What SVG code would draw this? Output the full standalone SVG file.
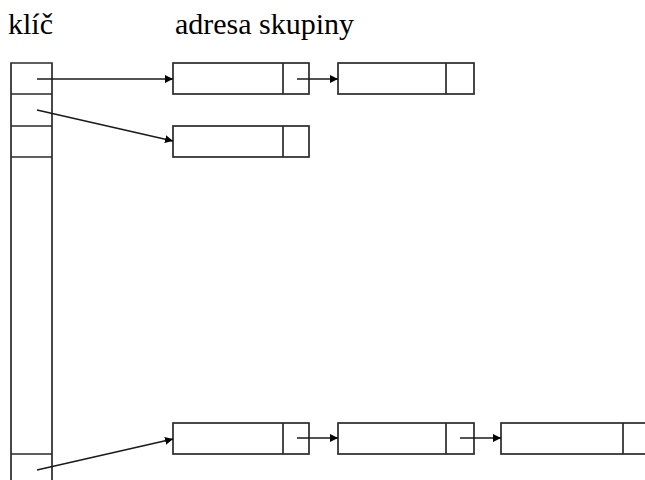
<svg xmlns="http://www.w3.org/2000/svg" width="645" height="480" viewBox="0 0 645 480">
  <style>
    .box { fill: none; stroke: #2a2a2a; stroke-width: 1.7; }
    .link { fill: none; stroke: #1a1a1a; stroke-width: 1.6; }
    .lbl { font-family: "Liberation Serif", "Times New Roman", Times, Tinos, "Nimbus Roman", "Nimbus Roman No9 L", "DejaVu Serif", "Noto Serif", FreeSerif, serif; font-size: 30px; fill: #000; }
  </style>
  <defs>
    <marker id="head" markerWidth="10" markerHeight="10" refX="8" refY="4.5" orient="auto" markerUnits="userSpaceOnUse">
      <path d="M0,0.5 L8,4.5 L0,8.5 Z" fill="#000"/>
    </marker>
  </defs>
  <rect width="645" height="480" fill="#fff"/>

  <text class="lbl" x="8" y="34">klíč</text>
  <text class="lbl" x="175" y="34">adresa skupiny</text>

  <!-- key table (column of slots) -->
  <g id="keys">
    <path class="box" d="M11,481 V63 H52 V481 M11,94 H52 M11,126 H52 M11,157 H52 M11,454 H52"/>
  </g>

  <!-- bucket chain for slot 1 -->
  <g id="b1a">
    <rect class="box" x="173" y="63" width="136" height="31"/>
    <line class="box" x1="283" y1="63" x2="283" y2="94"/>
  </g>
  <g id="b1b">
    <rect class="box" x="338" y="63" width="136" height="31"/>
    <line class="box" x1="446" y1="63" x2="446" y2="94"/>
  </g>

  <!-- bucket for slot 2 -->
  <g id="b2a">
    <rect class="box" x="173" y="126" width="136" height="31"/>
    <line class="box" x1="283" y1="126" x2="283" y2="157"/>
  </g>

  <!-- bucket chain for last slot -->
  <g id="b3a">
    <rect class="box" x="173" y="423" width="136" height="31"/>
    <line class="box" x1="283" y1="423" x2="283" y2="454"/>
  </g>
  <g id="b3b">
    <rect class="box" x="338" y="423" width="136" height="31"/>
    <line class="box" x1="446" y1="423" x2="446" y2="454"/>
  </g>
  <g id="b3c">
    <rect class="box" x="501" y="423" width="160" height="31"/>
    <line class="box" x1="623" y1="423" x2="623" y2="454"/>
  </g>

  <g id="connectors">
    <line class="link" x1="37" y1="79" x2="173" y2="79" marker-end="url(#head)"/>
    <line class="link" x1="297" y1="79" x2="338" y2="79" marker-end="url(#head)"/>
    <line class="link" x1="37" y1="110" x2="173" y2="141" marker-end="url(#head)"/>
    <line class="link" x1="37" y1="470" x2="173" y2="439" marker-end="url(#head)"/>
    <line class="link" x1="297" y1="438" x2="338" y2="438" marker-end="url(#head)"/>
    <line class="link" x1="460" y1="438" x2="501" y2="438" marker-end="url(#head)"/>
  </g>
</svg>
